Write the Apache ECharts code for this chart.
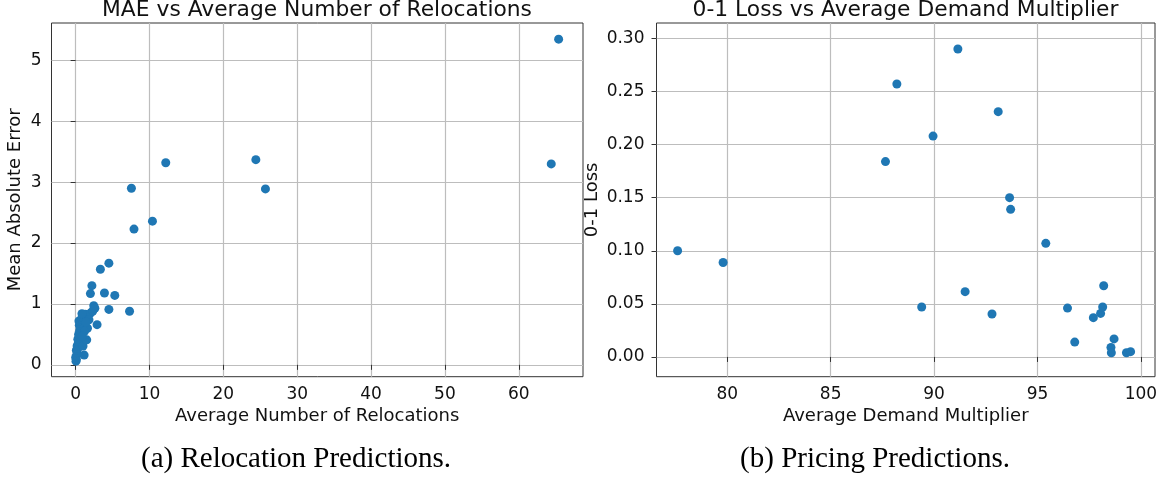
<!DOCTYPE html>
<html>
<head>
<meta charset="utf-8">
<script src="https://cdn.jsdelivr.net/npm/echarts@6/dist/echarts.min.js"></script>
<style>
  html, body { margin: 0; padding: 0; background: #ffffff; }
  #chart { width: 1170px; height: 480px; }
</style>
</head>
<body>
<div id="chart"></div>
<script>
// (a) relocation experiment: average number of relocations vs mean absolute error
const relocX = [
  65.4, 64.4, 24.4, 25.7, 12.2, 7.55, 10.4, 7.9, 4.5, 3.35,
  2.2, 2.0, 3.9, 5.3, 2.45, 4.5, 7.3, 2.9,
  0.05, 0.1, 0.0, 0.15, 0.2, 0.1, 0.3, 0.2, 0.35, 0.45,
  0.3, 0.5, 0.4, 0.6, 0.55, 0.7, 0.5, 0.65, 0.45, 0.8,
  0.9, 1.0, 1.3, 1.7, 2.0, 2.3, 1.15, 1.0, 1.5, 1.6,
  1.2, 1.8, 0.9, 2.6, 1.4, 0.85
];
const relocMAE = [
  5.35, 3.30, 3.37, 2.89, 3.32, 2.90, 2.36, 2.23, 1.67, 1.57,
  1.30, 1.17, 1.18, 1.14, 0.97, 0.91, 0.88, 0.66,
  0.06, 0.09, 0.12, 0.16, 0.20, 0.24, 0.27, 0.31, 0.35, 0.38,
  0.42, 0.46, 0.50, 0.53, 0.57, 0.61, 0.65, 0.69, 0.72, 0.75,
  0.79, 0.82, 0.83, 0.81, 0.85, 0.88, 0.16, 0.31, 0.41, 0.60,
  0.55, 0.74, 0.47, 0.93, 0.70, 0.84
];

// (b) pricing experiment: average demand multiplier vs 0-1 loss
const demandX = [
  77.6, 79.8, 87.65, 88.2, 89.4, 89.95, 91.15, 91.5, 92.8, 93.1,
  93.65, 93.7, 95.4, 96.45, 96.8, 97.7, 98.05, 98.15, 98.2, 98.55,
  98.57, 98.7, 99.3, 99.5
];
const lossY = [
  0.100, 0.089, 0.184, 0.257, 0.047, 0.208, 0.290, 0.0615, 0.0405, 0.231,
  0.150, 0.139, 0.107, 0.046, 0.014, 0.037, 0.041, 0.047, 0.067, 0.009,
  0.004, 0.017, 0.004, 0.005
];

// tick labels
const relocTicks = [0, 10, 20, 30, 40, 50, 60];
const maeTicks = [0, 1, 2, 3, 4, 5];
const demandTicks = [80, 85, 90, 95, 100];
const lossTicks = [0, 0.05, 0.1, 0.15, 0.2, 0.25, 0.3];

const pairs = (xs, ys) => xs.map((x, i) => [x, ys[i]]);

const FONT = 'DejaVu Sans';
const TEXT = '#111111';
const GRIDLINE = '#bdbdbd';
const SPINE = '#333333';
const DOT = '#1f77b4';

function valueAxis(o) {
  return {
    type: 'value',
    gridIndex: o.grid,
    min: o.min,
    max: o.max,
    name: o.name,
    nameLocation: 'middle',
    nameGap: o.nameGap,
    nameTextStyle: { fontFamily: FONT, fontSize: 18, color: TEXT },
    axisLine: { show: false },
    axisTick: {
      show: true, length: 5, customValues: o.ticks,
      lineStyle: { color: SPINE, width: 1 }
    },
    axisLabel: {
      show: true, customValues: o.ticks, margin: o.margin,
      fontFamily: FONT, fontSize: 17, color: TEXT,
      formatter: o.fmt,
      showMinLabel: true, showMaxLabel: true
    },
    splitLine: { show: true, lineStyle: { color: GRIDLINE, width: 1.2 } }
  };
}

const chart = echarts.init(document.getElementById('chart'), null, { renderer: 'canvas' });

chart.setOption({
  backgroundColor: '#ffffff',
  animation: false,
  grid: [
    { left: 51.5, top: 23, width: 531.5, height: 353.7, show: true,
      borderColor: SPINE, borderWidth: 1, backgroundColor: 'transparent' },
    { left: 656.5, top: 23, width: 498.5, height: 353.7, show: true,
      borderColor: SPINE, borderWidth: 1, backgroundColor: 'transparent' }
  ],
  xAxis: [
    valueAxis({ grid: 0, min: -3.27, max: 68.7, ticks: relocTicks,
      name: 'Average Number of Relocations', nameGap: 31, margin: 9,
      fmt: v => String(Math.round(v)) }),
    valueAxis({ grid: 1, min: 76.58, max: 100.68, ticks: demandTicks,
      name: 'Average Demand Multiplier', nameGap: 31, margin: 9,
      fmt: v => String(Math.round(v)) })
  ],
  yAxis: [
    valueAxis({ grid: 0, min: -0.195, max: 5.615, ticks: maeTicks,
      name: 'Mean Absolute Error', nameGap: 27.5, margin: 10,
      fmt: v => String(Math.round(v)) }),
    valueAxis({ grid: 1, min: -0.0186, max: 0.3145, ticks: lossTicks,
      name: '0-1 Loss', nameGap: 55.5, margin: 12,
      fmt: v => v.toFixed(2) })
  ],
  series: [
    { type: 'scatter', xAxisIndex: 0, yAxisIndex: 0, data: pairs(relocX, relocMAE),
      symbol: 'circle', symbolSize: 9, itemStyle: { color: DOT, opacity: 1 } },
    { type: 'scatter', xAxisIndex: 1, yAxisIndex: 1, data: pairs(demandX, lossY),
      symbol: 'circle', symbolSize: 9, itemStyle: { color: DOT, opacity: 1 } }
  ],
  graphic: [
    { type: 'text', x: 317, y: 10, style: {
        text: 'MAE vs Average Number of Relocations', fill: TEXT,
        font: '21.8px "DejaVu Sans"', align: 'center', verticalAlign: 'middle' } },
    { type: 'text', x: 905.5, y: 10, style: {
        text: '0-1 Loss vs Average Demand Multiplier', fill: TEXT,
        font: '21.8px "DejaVu Sans"', align: 'center', verticalAlign: 'middle' } },
    { type: 'text', x: 296, y: 459, style: {
        text: '(a) Relocation Predictions.', fill: '#000000',
        font: '29px "Liberation Serif"', align: 'center', verticalAlign: 'middle' } },
    { type: 'text', x: 875, y: 459, style: {
        text: '(b) Pricing Predictions.', fill: '#000000',
        font: '29px "Liberation Serif"', align: 'center', verticalAlign: 'middle' } }
  ]
});
</script>
</body>
</html>
